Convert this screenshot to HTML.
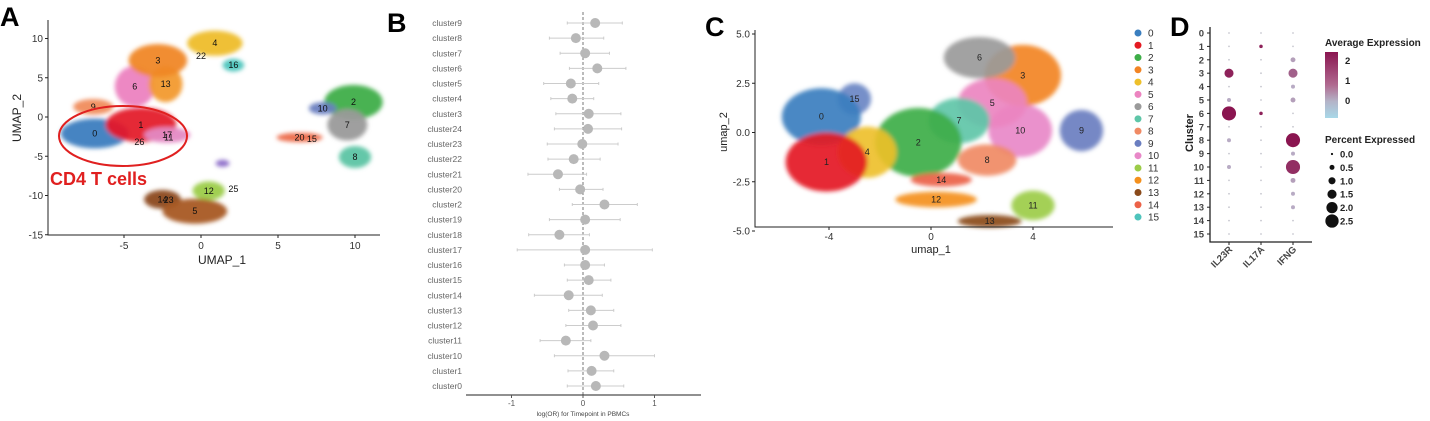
<!DOCTYPE html>
<html><head><meta charset="utf-8"><style>
html,body{margin:0;padding:0;background:#fff;width:1430px;height:421px;overflow:hidden}
svg{display:block;font-family:"Liberation Sans",sans-serif}
</style></head><body>
<svg id="fig" width="1430" height="421" viewBox="0 0 1430 421">
<defs>
<filter id="soft" x="-20%" y="-20%" width="140%" height="140%"><feGaussianBlur stdDeviation="2"/></filter>
<linearGradient id="grad" x1="0" y1="0" x2="0" y2="1">
<stop offset="0" stop-color="#8a1550"/><stop offset="0.5" stop-color="#b06a90"/><stop offset="0.75" stop-color="#b4b4c8"/><stop offset="1" stop-color="#a8d8e8"/></linearGradient>
</defs>
<g id="pa"></g>
<g id="pb"></g>
<g id="pc"></g>
<g id="pd"></g>
</svg>
<script>
// ---------- Panel A data ----------
const aLabels=["9","6","13","3","0","1","17","4","16","2","10","7","8","20","14","12","5","x"];
const aX=[-7.0,-4.3,-2.3,-2.8,-6.9,-3.9,-2.2,0.9,2.1,9.9,7.9,9.5,10.0,6.4,-2.5,0.5,-0.4,1.4];
const aY=[1.3,3.9,4.2,7.2,-2.1,-1.0,-2.3,9.4,6.6,1.9,1.1,-1.0,-5.1,-2.6,-10.5,-9.4,-12.0,-5.9];
const aRX=[1.3,1.3,1.1,1.9,2.2,2.3,1.5,1.8,0.7,1.9,0.9,1.3,1.05,1.5,1.2,1.05,2.1,0.45];
const aRY=[1.0,2.6,2.3,2.1,1.9,2.2,1.0,1.6,0.8,2.2,0.8,2.0,1.4,0.6,1.2,1.2,1.6,0.45];
const aCol=["#f08c5c","#ec82c0","#f29a30","#f08826","#3b7dbf","#e41a2c","#e48ac4","#eebd2c","#4cc4bc","#3eae48","#6a7ec0","#9a9a9a","#5cc4a4","#ec6a4a","#8c4a1c","#9ccc4a","#a85a24","#8a6ac8"];
const aExtraLbl=[["26",-4.0,-3.2],["11",-2.1,-2.6],["22",0.0,7.8],["15",7.2,-2.8],["23",-2.1,-10.6],["25",2.1,-9.2]];
// ---------- Panel B data ----------
const bCats=["cluster9","cluster8","cluster7","cluster6","cluster5","cluster4","cluster3","cluster24","cluster23","cluster22","cluster21","cluster20","cluster2","cluster19","cluster18","cluster17","cluster16","cluster15","cluster14","cluster13","cluster12","cluster11","cluster10","cluster1","cluster0"];
const bEst=[0.17,-0.1,0.03,0.2,-0.17,-0.15,0.08,0.07,-0.01,-0.13,-0.35,-0.04,0.3,0.03,-0.33,0.03,0.03,0.08,-0.2,0.11,0.14,-0.24,0.3,0.12,0.18];
const bLo=[-0.22,-0.47,-0.32,-0.19,-0.55,-0.45,-0.38,-0.4,-0.5,-0.49,-0.77,-0.33,-0.15,-0.47,-0.76,-0.92,-0.26,-0.22,-0.68,-0.2,-0.24,-0.6,-0.4,-0.21,-0.22];
const bHi=[0.55,0.29,0.37,0.6,0.22,0.15,0.53,0.54,0.49,0.24,0.05,0.28,0.76,0.52,0.09,0.97,0.3,0.39,0.27,0.43,0.53,0.11,1.0,0.43,0.57];
const bTicks=[-1,0,1];
// ---------- Panel C data ----------
const cLabels=["0","1","2","3","4","5","6","7","8","9","10","11","12","13","14","15"];
const cCol=["#3a7ebf","#e41a22","#3eae48","#f28424","#eec02a","#ec84c0","#9a9a9a","#5ec6a8","#f08a64","#6a7ec0","#e888c8","#9ccc48","#f4901c","#8a4a1a","#ec6248","#6a86c4"];
const cX=[-4.3,-4.1,-0.5,3.6,-2.5,2.4,1.9,1.1,2.2,5.9,3.5,4.0,0.2,2.3,0.4,-3.0];
const cY=[0.8,-1.5,-0.5,2.9,-1.0,1.5,3.8,0.6,-1.4,0.1,0.1,-3.7,-3.4,-4.5,-2.4,1.7];
const cRX=[1.55,1.6,1.7,1.5,1.15,1.35,1.4,1.2,1.15,0.85,1.25,0.85,1.6,1.25,1.2,0.65];
const cRY=[1.45,1.5,1.75,1.55,1.3,1.25,1.05,1.15,0.8,1.05,1.35,0.75,0.4,0.32,0.35,0.8];
const cDraw=[10,3,6,5,8,7,2,9,11,13,12,14,15,0,4,1];
const cYTicks=[5.0,2.5,0.0,-2.5,-5.0];
const cXTicks=[-4,0,4];
// ---------- Panel D data ----------
const dGenes=["IL23R","IL17A","IFNG"];
const dClusters=["0","1","2","3","4","5","6","7","8","9","10","11","12","13","14","15"];
const dPct=[[0,0,0],[0,0.2,0],[0,0,0.5],[1.4,0,1.4],[0,0,0.3],[0.3,0,0.5],[2.5,0.2,0],[0,0,0],[0.3,0,2.5],[0,0,0.3],[0.3,0,2.5],[0,0,0.5],[0,0,0.3],[0,0,0.3],[0,0,0],[0,0,0]];
const dExp=[[-0.5,-0.5,-0.5],[-0.5,2,-0.5],[-0.5,-0.5,0],[2,-0.5,1],[-0.5,-0.5,-0.2],[-0.2,-0.5,0],[2.2,2,-0.5],[-0.5,-0.5,-0.5],[-0.2,-0.5,2.2],[-0.5,-0.5,-0.2],[-0.2,-0.5,1.8],[-0.5,-0.5,0],[-0.5,-0.5,-0.2],[-0.5,-0.5,-0.2],[-0.5,-0.5,-0.5],[-0.5,-0.5,-0.5]];
const dLegPct=["0.0","0.5","1.0","1.5","2.0","2.5"];
const dLegExp=["2","1","0"];

const NS="http://www.w3.org/2000/svg";
function mk(tag,attrs,parent,txt){const e=document.createElementNS(NS,tag);for(const k in attrs)e.setAttribute(k,attrs[k]);if(txt!==undefined)e.textContent=txt;parent.appendChild(e);return e;}

// ===== Panel A =====
(function(){
const g=document.getElementById('pa');
const X=v=>201+15.4*v, Y=v=>117-7.85*v;
let t=mk('text',{x:0,y:26,'font-size':27,'font-weight':'bold'},g,'A');


const cl=mk('g',{filter:'url(#soft)'},g);


for(let i=0;i<aX.length;i++){
 const e=mk('ellipse',{cx:X(aX[i]),cy:Y(aY[i]),rx:15.4*aRX[i],ry:7.85*aRY[i],fill:aCol[i],opacity:0.95},cl);
 
 
}
for(let i=0;i<aX.length-1;i++){
 const l=mk('text',{x:X(aX[i]),y:Y(aY[i])+3,'font-size':9,'text-anchor':'middle',fill:'#111'},g,aLabels[i]);
 
 
}
aExtraLbl.forEach(d=>{const l=mk('text',{x:X(d[1]),y:Y(d[2])+3,'font-size':9,'text-anchor':'middle',fill:'#111'},g,d[0]);
 
 });
const ax=mk('path',{d:'M48,20 V235 H380',stroke:'#222','stroke-width':1,fill:'none'},g);


[10,5,0,-5,-10,-15].forEach(v=>{mk('line',{x1:45,x2:48,y1:Y(v),y2:Y(v),stroke:'#222'},g);
 const l=mk('text',{x:43,y:Y(v)+3.5,'font-size':10,'text-anchor':'end',fill:'#333'},g,v);
 
 });
[-5,0,5,10].forEach(v=>{mk('line',{x1:X(v),x2:X(v),y1:235,y2:238,stroke:'#222'},g);
 const l=mk('text',{x:X(v),y:249,'font-size':10,'text-anchor':'middle',fill:'#333'},g,v);
 
 });
t=mk('text',{x:222,y:264,'font-size':12,'text-anchor':'middle',fill:'#222'},g,'UMAP_1');


t=mk('text',{x:0,y:0,'font-size':12,'text-anchor':'middle',fill:'#222',transform:'translate(21,118) rotate(-90)'},g,'UMAP_2');


t=mk('ellipse',{cx:123,cy:136,rx:64,ry:30,fill:'none',stroke:'#e02020','stroke-width':2},g);


t=mk('text',{x:50,y:185,'font-size':18,'font-weight':'bold',fill:'#e02020'},g,'CD4 T cells');


})();

// ===== Panel B =====
(function(){
const g=document.getElementById('pb');
const X=v=>583+71.5*v, Y=i=>23+15.125*i;
let t=mk('text',{x:387,y:32,'font-size':27,'font-weight':'bold'},g,'B');


t=mk('line',{x1:583,x2:583,y1:12,y2:395,stroke:'#777','stroke-dasharray':'3,2','stroke-width':1},g);


bCats.forEach((c,i)=>{
 const y=Y(i);
 const l=mk('text',{x:462,y:y+3,'font-size':8.5,'text-anchor':'end',fill:'#666'},g,c);
 
 
 const ci=mk('line',{x1:X(bLo[i]),x2:X(bHi[i]),y1:y,y2:y,stroke:'#ccc','stroke-width':1},g);
 
 
 mk('line',{x1:X(bLo[i]),x2:X(bLo[i]),y1:y-1.5,y2:y+1.5,stroke:'#ccc'},g);
 mk('line',{x1:X(bHi[i]),x2:X(bHi[i]),y1:y-1.5,y2:y+1.5,stroke:'#ccc'},g);
 const p=mk('circle',{cx:X(bEst[i]),cy:y,r:5,fill:'#b8b8b8'},g);
 
 
});
t=mk('line',{x1:466,x2:701,y1:395,y2:395,stroke:'#222','stroke-width':1},g);


bTicks.forEach(v=>{mk('line',{x1:X(v),x2:X(v),y1:395,y2:398,stroke:'#555'},g);
 const l=mk('text',{x:X(v),y:406,'font-size':8,'text-anchor':'middle',fill:'#555'},g,v);
 
 });
t=mk('text',{x:583,y:416,'font-size':6.5,'text-anchor':'middle',fill:'#444'},g,'log(OR) for Timepoint in PBMCs');


})();

// ===== Panel C =====
(function(){
const g=document.getElementById('pc');
const X=v=>931+25.5*v, Y=v=>132.5-19.7*v;
let t=mk('text',{x:705,y:36,'font-size':27,'font-weight':'bold'},g,'C');


const cl=mk('g',{filter:'url(#soft)'},g);


cDraw.forEach(i=>{
 const e=mk('ellipse',{cx:X(cX[i]),cy:Y(cY[i]),rx:25.5*cRX[i],ry:19.7*cRY[i],fill:cCol[i],opacity:0.92},cl);
 
 
});
cLabels.forEach((lb,i)=>{const l=mk('text',{x:X(cX[i]),y:Y(cY[i])+3,'font-size':9,'text-anchor':'middle',fill:'#222'},g,lb);
 
 });
t=mk('path',{d:'M755,30 V227 H1113',stroke:'#222',fill:'none'},g);


cYTicks.forEach(v=>{mk('line',{x1:752,x2:755,y1:Y(v),y2:Y(v),stroke:'#222'},g);
 const l=mk('text',{x:750,y:Y(v)+3.5,'font-size':10,'text-anchor':'end',fill:'#333'},g,v.toFixed(1));
 
 });
cXTicks.forEach(v=>{mk('line',{x1:X(v),x2:X(v),y1:227,y2:230,stroke:'#222'},g);
 const l=mk('text',{x:X(v),y:240,'font-size':10,'text-anchor':'middle',fill:'#333'},g,v);
 
 });
t=mk('text',{x:931,y:253,'font-size':11,'text-anchor':'middle',fill:'#222'},g,'umap_1');


t=mk('text',{x:0,y:0,'font-size':11,'text-anchor':'middle',fill:'#222',transform:'translate(727,132) rotate(-90)'},g,'umap_2');


const legCol=["#3a7ebf","#e41a22","#3eae48","#f28424","#eec02a","#ec84c0","#9a9a9a","#5ec6a8","#f08a64","#6a7ec0","#e888c8","#9ccc48","#f4901c","#8a4a1a","#ec6248","#4ec4bc"];
cLabels.forEach((lb,i)=>{const y=33+12.27*i;
 const d=mk('circle',{cx:1138,cy:y,r:3.5,fill:legCol[i]},g);
 
 
 const l=mk('text',{x:1148,y:y+3.5,'font-size':10,fill:'#333'},g,lb);
 
 });
})();

// ===== Panel D =====
(function(){
const g=document.getElementById('pd');
const colX=[1229,1261,1293]; const Y=i=>33+13.4*i;
const R=p=>p<=0?0.9:1.3+p*2.3;
function col(v){const t=Math.max(0,Math.min(1,(v+0.5)/2.7));
 const a=[190,190,210],b=[138,21,80];
 return 'rgb('+a.map((c,k)=>Math.round(c+(b[k]-c)*t)).join(',')+')';}
let t=mk('text',{x:1170,y:36,'font-size':27,'font-weight':'bold'},g,'D');


dClusters.forEach((c,i)=>{const l=mk('text',{x:1204,y:Y(i)+3.5,'font-size':9.5,'font-weight':'bold','text-anchor':'end',fill:'#444'},g,c);
 
 
 mk('line',{x1:1207,x2:1210,y1:Y(i),y2:Y(i),stroke:'#222'},g);
 dGenes.forEach((gn,j)=>{const d=mk('circle',{cx:colX[j],cy:Y(i),r:R(dPct[i][j]),fill:dPct[i][j]<=0?'#c8c8d0':col(dExp[i][j])},g);
  
  });
});
t=mk('path',{d:'M1210,27 V242 H1312',stroke:'#222','stroke-width':1.3,fill:'none'},g);


dGenes.forEach((gn,j)=>{mk('line',{x1:colX[j],x2:colX[j],y1:242,y2:245,stroke:'#222'},g);
 const l=mk('text',{x:0,y:0,'font-size':9.5,'font-weight':'bold','text-anchor':'end',fill:'#444',transform:'translate('+(colX[j]+4)+',250) rotate(-45)'},g,gn);
 
 });
t=mk('text',{x:0,y:0,'font-size':11,'font-weight':'bold','text-anchor':'middle',fill:'#222',transform:'translate(1193,133) rotate(-90)'},g,'Cluster');


t=mk('text',{x:1325,y:46,'font-size':10,'font-weight':'bold',fill:'#222'},g,'Average Expression');


t=mk('rect',{x:1325,y:52,width:13,height:66,fill:'url(#grad)'},g);


dLegExp.forEach((v,k)=>{const l=mk('text',{x:1345,y:64+20*k,'font-size':9.5,'font-weight':'bold',fill:'#222'},g,v);
 
 });
t=mk('text',{x:1325,y:143,'font-size':10,'font-weight':'bold',fill:'#222'},g,'Percent Expressed');


dLegPct.forEach((v,k)=>{const y=154+13.4*k;
 const d=mk('circle',{cx:1332,cy:y,r:R(parseFloat(v))*0.9+0.3,fill:'#111'},g);
 
 
 const l=mk('text',{x:1340,y:y+3.5,'font-size':9.5,'font-weight':'bold',fill:'#222'},g,v);
 
 });
})();
</script>
</body></html>
